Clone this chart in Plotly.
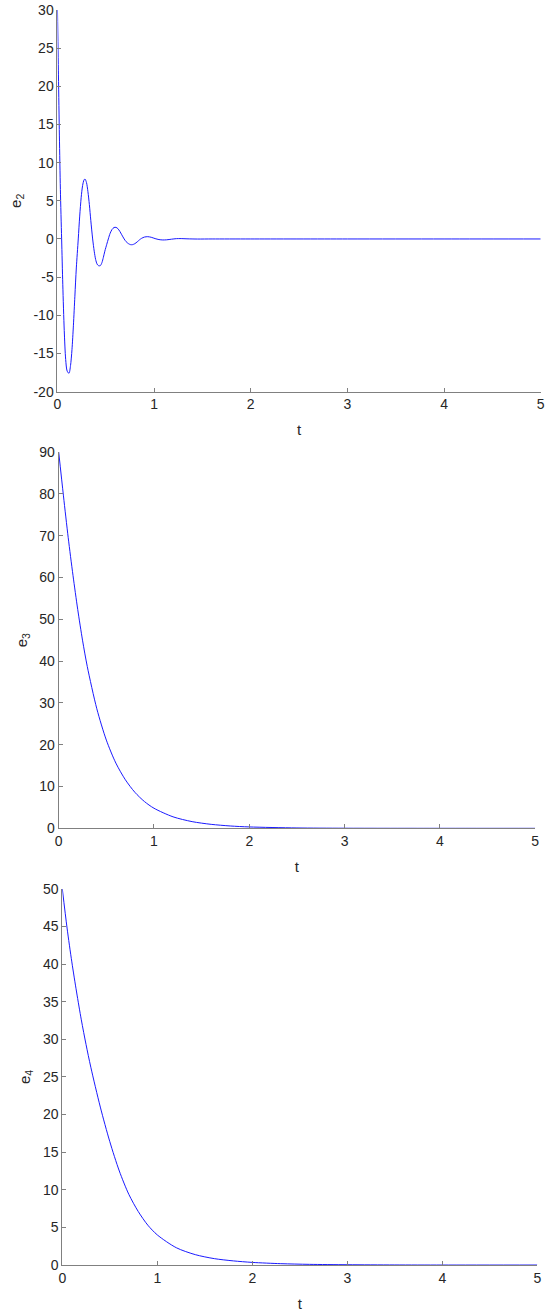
import plotly.graph_objects as go
from plotly.subplots import make_subplots

# e2: damped oscillation
t_e2 = [0, 0.01, 0.02, 0.03, 0.043, 0.055, 0.07, 0.085, 0.10, 0.119, 0.135, 0.15,
        0.165, 0.18, 0.195, 0.215, 0.23, 0.245, 0.26, 0.275, 0.285, 0.30, 0.315,
        0.33, 0.345, 0.364, 0.38, 0.395, 0.41, 0.425, 0.443, 0.46, 0.475, 0.49,
        0.51, 0.526, 0.545, 0.565, 0.585, 0.606, 0.625, 0.645, 0.665, 0.69, 0.71,
        0.735, 0.755, 0.775, 0.80, 0.825, 0.85, 0.87, 0.90, 0.934, 0.97, 1.01,
        1.05, 1.09, 1.13, 1.18, 1.23, 1.28, 1.34, 1.45, 1.6, 2.0, 3.0, 4.0, 5.0]
e2 = [30, 21.5, 13.5, 6.5, 0, -6, -12, -15.8, -17.3, -17.6, -16.6, -14.5,
      -11.3, -7.5, -3.8, 0, 3.0, 5.4, 7.0, 7.75, 7.85, 7.4, 6.2,
      4.5, 2.4, 0, -1.6, -2.7, -3.3, -3.5, -3.5, -3.1, -2.4, -1.6,
      -0.7, 0, 0.75, 1.25, 1.5, 1.52, 1.35, 1.0, 0.55, 0, -0.35,
      -0.62, -0.74, -0.75, -0.62, -0.38, -0.1, 0.08, 0.25, 0.3, 0.22, 0.05,
      -0.08, -0.13, -0.11, -0.03, 0.04, 0.05, 0.02, -0.01, 0, 0, 0, 0, 0]

# e3: exponential-like decay
t_e3 = [0, 0.05, 0.1, 0.15, 0.2, 0.25, 0.3, 0.4, 0.5, 0.6, 0.7, 0.8, 0.9,
        1.0, 1.2, 1.4, 1.6, 1.8, 2.0, 2.5, 3.0, 4.0, 5.0]
e3 = [90, 79.5, 69.5, 60.5, 52.3, 45, 38.7, 28.6, 21.1, 15.6, 11.6, 8.6, 6.4,
      4.8, 2.75, 1.6, 0.95, 0.56, 0.33, 0.09, 0.025, 0.002, 0]

# e4: exponential-like decay
t_e4 = [0, 0.05, 0.1, 0.15, 0.2, 0.25, 0.3, 0.4, 0.5, 0.6, 0.7, 0.8, 0.9,
        1.0, 1.2, 1.4, 1.6, 1.8, 2.0, 2.3, 2.6, 3.0, 3.5, 4.0, 5.0]
e4 = [50, 44.8, 40.3, 36.3, 32.6, 29.3, 26.3, 21, 16.4, 12.5, 9.4, 7.1, 5.3,
      4.0, 2.3, 1.38, 0.85, 0.55, 0.35, 0.18, 0.09, 0.04, 0.01, 0, 0]

# tick values / labels (plain hyphen for negatives, as in the original)
x_ticks = [0, 1, 2, 3, 4, 5]
y_ticks = [
    [-20, -15, -10, -5, 0, 5, 10, 15, 20, 25, 30],
    [0, 10, 20, 30, 40, 50, 60, 70, 80, 90],
    [0, 5, 10, 15, 20, 25, 30, 35, 40, 45, 50],
]
y_labels = ["e<sub>2</sub>", "e<sub>3</sub>", "e<sub>4</sub>"]
y_ranges = [[-20, 30], [0, 90], [0, 50]]

# panel placement (paper fractions)
x_domains = [[0.1045, 0.9831], [0.1067, 0.9731], [0.1133, 0.9769]]
y_domains = [[0.7022, 0.9924], [0.3701, 0.6563], [0.0380, 0.3240]]

AXIS_COLOR = "#808080"
TEXT_COLOR = "#262626"

fig = make_subplots(rows=3, cols=1)

series = [(t_e2, e2), (t_e3, e3), (t_e4, e4)]
for i, (tx, ey) in enumerate(series, start=1):
    fig.add_trace(go.Scatter(x=tx, y=ey, mode="lines",
                             line=dict(color="#1a1aff", width=1, shape="spline", smoothing=0.8),
                             showlegend=False, cliponaxis=False),
                  row=i, col=1)

for i in range(3):
    fig.update_xaxes(
        domain=x_domains[i], range=[0, 5], tickvals=x_ticks,
        ticktext=[str(v) for v in x_ticks], automargin=False,
        showgrid=False, zeroline=False, showline=True, linecolor=AXIS_COLOR,
        linewidth=1, ticks="inside", ticklen=4, tickcolor=AXIS_COLOR,
        tickfont=dict(size=14, color=TEXT_COLOR),
        title=dict(text="t", font=dict(size=15, color=TEXT_COLOR), standoff=13),
        row=i + 1, col=1)
    fig.update_yaxes(
        domain=y_domains[i], range=y_ranges[i], tickvals=y_ticks[i],
        ticktext=[str(v) for v in y_ticks[i]], automargin=False,
        showgrid=False, zeroline=False, showline=True, linecolor=AXIS_COLOR,
        linewidth=1, ticks="inside", ticklen=4, tickcolor=AXIS_COLOR,
        tickfont=dict(size=14, color=TEXT_COLOR),
        title=dict(text=y_labels[i], font=dict(size=15, color=TEXT_COLOR), standoff=8),
        row=i + 1, col=1)

fig.update_layout(
    width=550, height=1315,
    margin=dict(l=0, r=0, t=0, b=0),
    paper_bgcolor="white", plot_bgcolor="white",
    font=dict(family="Liberation Sans, Arial, sans-serif", color=TEXT_COLOR),
)

# remove the default page margin so the figure sits at the window's corner
fig.write_html("out.html", config={"displayModeBar": False},
               post_script="document.body.style.margin='0';")
